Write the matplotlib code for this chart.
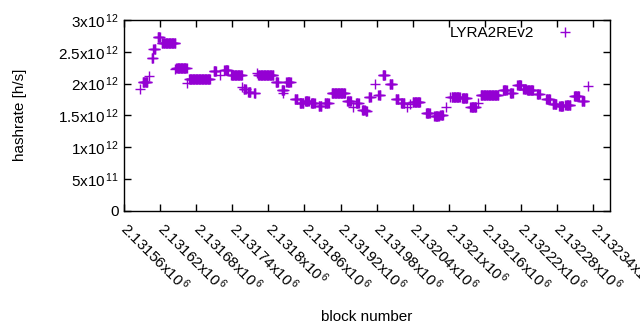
import matplotlib
matplotlib.use('Agg')
import matplotlib.pyplot as plt
import numpy as np

plt.rcParams['font.family'] = ['Liberation Sans', 'DejaVu Sans']
plt.rcParams['mathtext.fontset'] = 'custom'
plt.rcParams['mathtext.rm'] = 'Liberation Sans'
plt.rcParams['mathtext.it'] = 'Liberation Sans'
plt.rcParams['font.size'] = 11

# hashrate samples, read as runs of (first block, last block, value in 1e12 h/s)
run_first = [2131587, 2131591, 2131602, 2131606, 2131609, 2131616, 2131623, 2131644,
             2131647, 2131664, 2131668, 2131709, 2131720, 2131727, 2131738, 2131756,
             2131759, 2131766, 2131776, 2131781, 2131783, 2131812, 2131822, 2131825,
             2131830, 2131844, 2131852, 2131861, 2131871, 2131884, 2131894, 2131905,
             2131931, 2131941, 2131946, 2131956, 2131962, 2131967, 2131977, 2131983,
             2131990, 2132002, 2132012, 2132021, 2132030, 2132035, 2132040, 2132062,
             2132076, 2132086, 2132096, 2132102, 2132105, 2132122, 2132136, 2132149,
             2132153, 2132190, 2132202, 2132214, 2132224, 2132230, 2132247, 2132262,
             2132273, 2132284, 2132294, 2132308, 2132321, 2132332]
run_last = [2131587, 2131599, 2131602, 2131608, 2131612, 2131620, 2131645, 2131644,
            2131664, 2131664, 2131703, 2131713, 2131720, 2131733, 2131756, 2131756,
            2131762, 2131770, 2131778, 2131781, 2131808, 2131816, 2131826, 2131825,
            2131837, 2131848, 2131858, 2131867, 2131877, 2131888, 2131900, 2131927,
            2131937, 2131941, 2131950, 2131960, 2131964, 2131970, 2131977, 2131986,
            2131994, 2132006, 2132016, 2132026, 2132030, 2132035, 2132052, 2132068,
            2132083, 2132090, 2132096, 2132102, 2132118, 2132130, 2132145, 2132149,
            2132182, 2132196, 2132206, 2132220, 2132228, 2132240, 2132251, 2132268,
            2132279, 2132290, 2132302, 2132316, 2132325, 2132332]
run_value = [1.91, 2.02, 2.12, 2.40, 2.54, 2.73, 2.63, 2.23,
             2.25, 2.01, 2.07, 2.20, 2.13, 2.22, 2.13, 1.94,
             1.91, 1.87, 1.85, 2.17, 2.13, 2.02, 1.90, 1.85,
             2.02, 1.75, 1.69, 1.72, 1.70, 1.64, 1.70, 1.85,
             1.72, 1.63, 1.70, 1.59, 1.56, 1.79, 1.99, 1.82,
             2.14, 1.99, 1.75, 1.69, 1.63, 1.68, 1.71, 1.54,
             1.49, 1.50, 1.63, 1.79, 1.79, 1.77, 1.63, 1.69,
             1.82, 1.89, 1.85, 1.97, 1.92, 1.89, 1.84, 1.76,
             1.67, 1.65, 1.66, 1.80, 1.72, 1.96]

x_ticks = [2131560 + 60 * k for k in range(14)]
y_ticks = [0, 0.5e12, 1e12, 1.5e12, 2e12, 2.5e12, 3e12]
y_labels = ['0', r'5x10$^{\,11}$', r'1x10$^{\,12}$', r'1.5x10$^{\,12}$',
            r'2x10$^{\,12}$', r'2.5x10$^{\,12}$', r'3x10$^{\,12}$']

blocks = []
rates = []
for a, b, v in zip(run_first, run_last, run_value):
    for blk in range(a, b + 1):
        blocks.append(blk)
        rates.append(v * 1e12)

fig = plt.figure(figsize=(6.4, 3.3), dpi=100)
ax = fig.add_axes([124 / 640, 1 - 210.5 / 330, (610 - 124) / 640, (210.5 - 20) / 330])

ax.plot(blocks, rates, linestyle='none', marker='+', markersize=7,
        markeredgewidth=1.0, color='#9400D3', label='LYRA2REv2')

ax.set_xlim(2131560, 2132368)
ax.set_ylim(0, 3e12)

ax.set_yticks(y_ticks)
ax.set_yticklabels(y_labels)
ax.set_xticks(x_ticks)
ax.set_xticklabels([f'{t / 1e6:.5f}'.rstrip('0') + r'x10$^{\,6}$' for t in x_ticks],
                   rotation=-45, ha='left', va='center', rotation_mode='anchor')

ax.tick_params(direction='in', length=5, width=1, top=True, right=True,
               labelsize=11, colors='black')
ax.tick_params(axis='x', pad=11)
for s in ax.spines.values():
    s.set_linewidth(1.0)

ax.set_xlabel('block number')
ax.set_ylabel('hashrate [h/s]')
ax.yaxis.set_label_coords(-0.2, 0.5)
ax.xaxis.set_label_coords(0.5, -0.52)

ax.legend(loc='upper right', bbox_to_anchor=(0.967, 1.04), frameon=False,
          markerfirst=False, handletextpad=1.0, fontsize=11)

fig.savefig('out.png', dpi=100)
